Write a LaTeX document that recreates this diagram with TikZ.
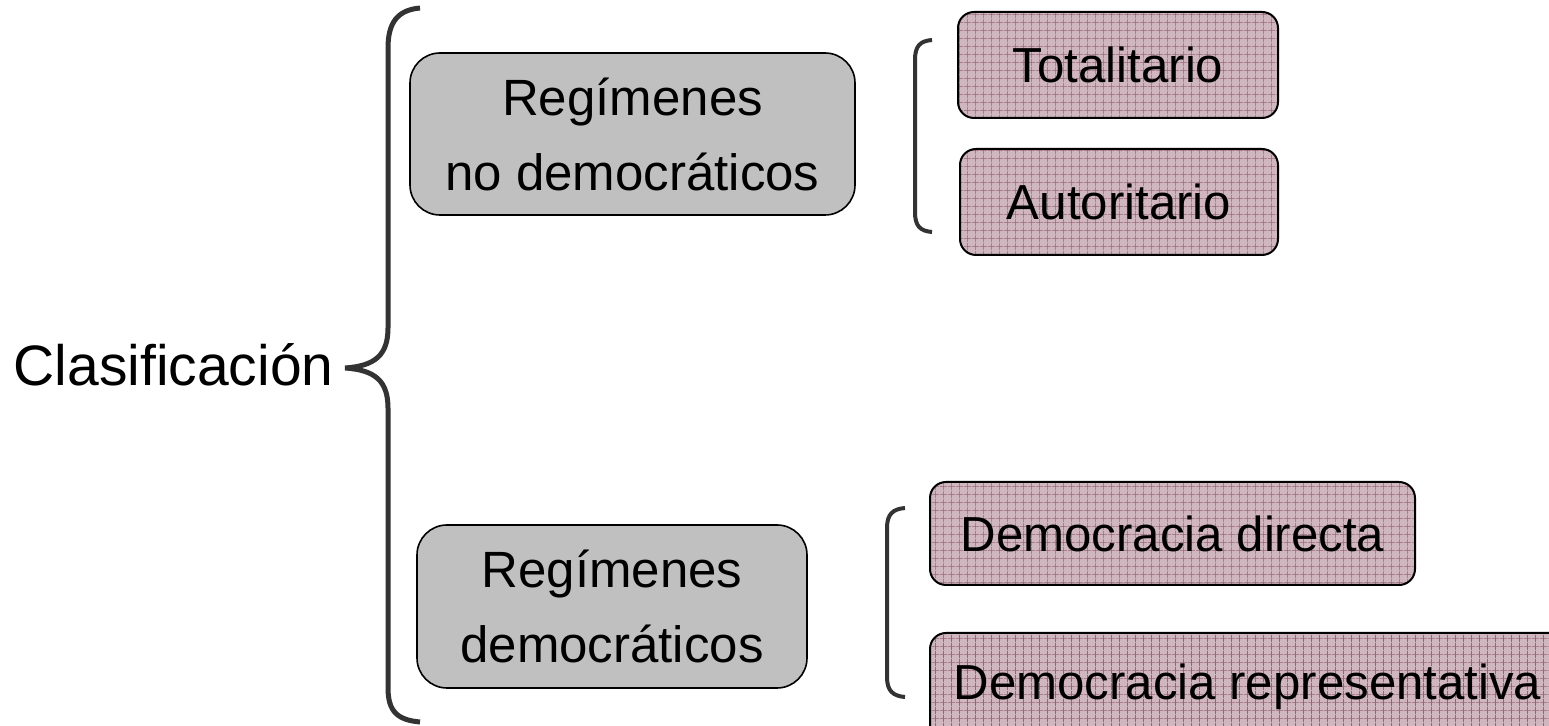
\documentclass[tikz,border=0pt]{standalone}
\usepackage{fontspec}
\setmainfont{Liberation Sans}
\usetikzlibrary{positioning,patterns.meta}
\definecolor{boxgray}{RGB}{192,192,192}
\definecolor{rosebg}{RGB}{208,182,190}
\definecolor{rosegrid}{RGB}{150,100,116}
\definecolor{bracegray}{RGB}{51,51,51}

\begin{document}
\begin{tikzpicture}[x=0.5pt,y=-0.5pt,
  group/.style={draw,line width=0.8pt,fill=boxgray,rounded corners=15pt,inner sep=0pt,
    align=center,font=\fontsize{25.5}{37.5}\selectfont},
  kind/.style={draw,line width=1pt,rounded corners=8pt,inner sep=0pt,preaction={fill=rosebg},
    pattern={Hatch[angle=0,distance=4pt,line width=0.35pt]},pattern color=rosegrid,
    font=\fontsize{24.6}{28}\selectfont},
  brace/.style={draw=bracegray,line width=2.5pt}]
   \useasboundingbox (0,0) rectangle (1549,726);
   \node[anchor=base east,inner sep=0pt,font=\fontsize{28.5}{34}\selectfont] (clas) at (334,386) {Clasificación};
   \node[group,minimum width=222.5pt,minimum height=81pt] (nodem) at (632.5,134) {Regímenes\\no democráticos};
   \node[group,minimum width=195pt,minimum height=81.5pt] (dem) at (612,606.5) {Regímenes\\democráticos};
   \node[kind,minimum width=160pt,minimum height=53pt] (tot) at (1118,65) {Totalitario};
   \node[kind,minimum width=159pt,minimum height=53pt] (aut) at (1119,202) {Autoritario};
   \node[kind,minimum width=242.5pt,minimum height=51.5pt] (dir) at (1172.5,533.5) {Democracia directa};
   \node[kind,minimum width=317.5pt,minimum height=53.5pt] (rep) at (1247.5,686.5) {Democracia representativa};
   % braces
   \draw[brace] (420,8) .. controls (398,10) and (388,22) .. (388,48) -- (388,328)
     .. controls (388,355) and (375,366) .. (345,368)
     .. controls (375,370) and (388,381) .. (388,408) -- (388,688)
     .. controls (388,712) and (398,720) .. (420,722);
   \draw[brace,line width=2pt] (932,40) .. controls (920,41) and (915,46) .. (915,60) -- (915,212)
     .. controls (915,226) and (920,231) .. (932,232);
   \draw[brace,line width=2pt] (905,508) .. controls (893,509) and (887,514) .. (887,528) -- (887,677)
     .. controls (887,691) and (893,696) .. (905,697);
\end{tikzpicture}
\end{document}
